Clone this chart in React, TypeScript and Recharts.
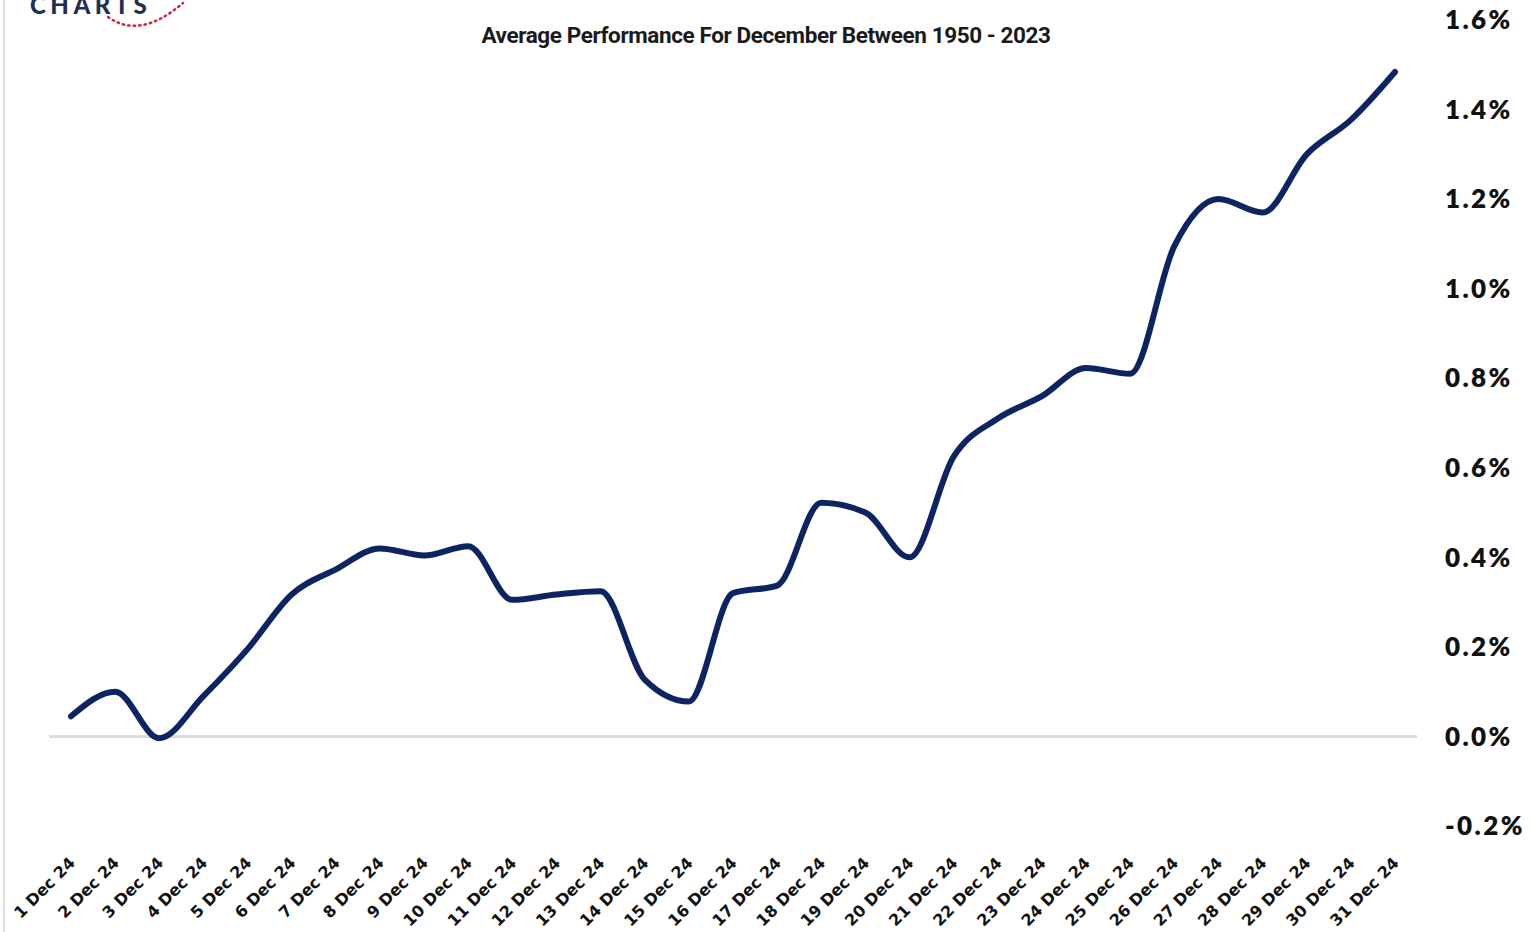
import { CartesianGrid, Line, LineChart, ReferenceLine, XAxis, YAxis } from "recharts";

// Average daily performance for December, 1950 - 2023 (in %)
const DAYS = [
  "1 Dec 24", "2 Dec 24", "3 Dec 24", "4 Dec 24", "5 Dec 24", "6 Dec 24", "7 Dec 24", "8 Dec 24",
  "9 Dec 24", "10 Dec 24", "11 Dec 24", "12 Dec 24", "13 Dec 24", "14 Dec 24", "15 Dec 24",
  "16 Dec 24", "17 Dec 24", "18 Dec 24", "19 Dec 24", "20 Dec 24", "21 Dec 24", "22 Dec 24",
  "23 Dec 24", "24 Dec 24", "25 Dec 24", "26 Dec 24", "27 Dec 24", "28 Dec 24", "29 Dec 24",
  "30 Dec 24", "31 Dec 24",
];

const PERF = [
  0.045, 0.1, -0.004, 0.09, 0.195, 0.317, 0.373, 0.42, 0.404, 0.425, 0.305, 0.317, 0.324, 0.127,
  0.078, 0.32, 0.337, 0.522, 0.5, 0.4, 0.625, 0.71, 0.76, 0.823, 0.81, 1.095, 1.2, 1.17, 1.3,
  1.377, 1.484,
];

const Y_TICKS = [-0.2, 0, 0.2, 0.4, 0.6, 0.8, 1.0, 1.2, 1.4, 1.6];

const NAVY = "#0c2461";
const ZERO = "#dcdcdc";

const data = DAYS.map((day, i) => ({ day, perf: PERF[i] }));

function DayTick({ x, y, payload }: { x?: number; y?: number; payload?: { value: string } }) {
  return (
    <g transform={`translate(${(x ?? 0) + 5},${(y ?? 0) + 30})`}>
      <text
        transform="rotate(-45)"
        textAnchor="end"
        fontFamily="DejaVu Sans"
        fontWeight={700}
        fontSize={16}
        fill="#111"
      >
        {payload?.value}
      </text>
    </g>
  );
}

function Logo() {
  return (
    <div style={{ position: "absolute", left: 0, top: 0, width: 200, height: 40, overflow: "hidden" }}>
      <div
        style={{
          position: "absolute",
          left: 30,
          top: -10,
          fontFamily: "Lato",
          fontWeight: 900,
          fontSize: 24,
          letterSpacing: 4.5,
          color: "#1d2f55",
        }}
      >
        CHARTS
      </div>
      <svg width={200} height={40} style={{ position: "absolute", left: 0, top: 0 }}>
        <path
          d="M108 17 Q140 40 183 3"
          fill="none"
          stroke="#d4213d"
          strokeWidth={2.5}
          strokeDasharray="1.5 4"
          strokeLinecap="round"
        />
      </svg>
    </div>
  );
}

export default function App() {
  return (
    <div
      style={{
        position: "fixed",
        left: 0,
        top: 0,
        width: 1532,
        height: 932,
        background: "#fff",
        overflow: "hidden",
      }}
    >
      <div style={{ position: "absolute", left: 3, top: 0, width: 2, height: 932, background: "#dedede" }} />
      <Logo />
      <div
        style={{
          position: "absolute",
          left: 0,
          width: 1532,
          top: 22,
          textAlign: "center",
          fontFamily: "Roboto",
          fontWeight: 700,
          fontSize: 22.5,
          letterSpacing: -0.4,
          color: "#1a1a1a",
        }}
      >
        Average Performance For December Between 1950 - 2023
      </div>
      <LineChart
        width={1532}
        height={932}
        data={data}
        margin={{ top: 20, right: 0, bottom: 0, left: 49 }}
      >
        <CartesianGrid horizontal={false} vertical={false} />
        <XAxis
          dataKey="day"
          interval={0}
          axisLine={false}
          tickLine={false}
          height={106}
          padding={{ left: 22, right: 22 }}
          tick={<DayTick />}
        />
        <YAxis
          orientation="right"
          domain={[-0.2, 1.6]}
          ticks={Y_TICKS}
          width={115}
          axisLine={false}
          tickLine={false}
          tickMargin={22}
          tickFormatter={(v: number) => `${v.toFixed(1)}%`}
          tick={{ fontFamily: "Lato", fontWeight: 800, fontSize: 26, fill: "#111", letterSpacing: 2.4 }}
        />
        <ReferenceLine y={0} stroke={ZERO} strokeWidth={3} />
        <Line
          type="monotone"
          dataKey="perf"
          stroke={NAVY}
          strokeWidth={6}
          strokeLinecap="round"
          dot={false}
          isAnimationActive={false}
        />
      </LineChart>
    </div>
  );
}
